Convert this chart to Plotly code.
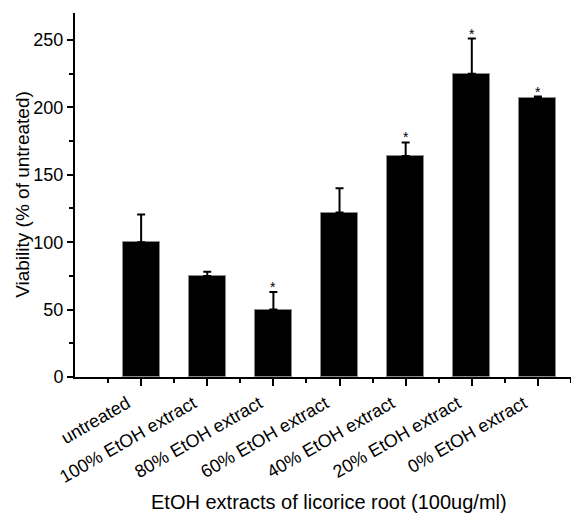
import plotly.graph_objects as go

categories = ["untreated", "100% EtOH extract", "80% EtOH extract", "60% EtOH extract",
              "40% EtOH extract", "20% EtOH extract", "0% EtOH extract"]
viability = [100, 75, 50, 122, 164, 225, 207]
error_up = [20.5, 3, 13, 18, 10, 26, 1]
significant = [False, False, True, False, True, True, True]

FONT = "Arial, Liberation Sans, sans-serif"
idx = list(range(len(categories)))

fig = go.Figure()
fig.add_trace(go.Bar(
    x=idx, y=viability, width=0.56,
    marker=dict(color="black", line=dict(color="#8a8a8a", width=1)),
    error_y=dict(type="data", symmetric=False, array=error_up,
                 arrayminus=[0] * len(error_up),
                 color="black", thickness=2, width=4),
    showlegend=False,
))

annotations = []
for i, (v, e, s) in enumerate(zip(viability, error_up, significant)):
    if s:
        annotations.append(dict(x=i, y=v + e, xref="x", yref="y", text="*",
                                showarrow=False, yanchor="middle", yshift=5,
                                font=dict(family=FONT, size=14, color="black")))

annotations.append(dict(x=0.512, y=-0.343, xref="paper", yref="paper",
                        text="EtOH extracts of licorice root (100ug/ml)",
                        showarrow=False, xanchor="center", yanchor="middle",
                        font=dict(family=FONT, size=20, color="black")))
annotations.append(dict(x=-0.105, y=0.503, xref="paper", yref="paper",
                        text="Viability (% of untreated)", textangle=-90,
                        showarrow=False, xanchor="center", yanchor="middle",
                        font=dict(family=FONT, size=19, color="black")))

fig.update_layout(
    width=571, height=518,
    margin=dict(l=75, r=0, t=13, b=141),
    paper_bgcolor="white", plot_bgcolor="white",
    font=dict(family=FONT, size=18, color="black"),
    annotations=annotations,
    bargap=0,
)
fig.update_xaxes(
    range=[-1, 6.5], tickmode="array", tickvals=idx, ticktext=categories,
    tickangle=-30, ticks="outside", ticklen=7, tickwidth=1.5, tickcolor="black",
    ticklabelshift=-14, ticklabelstandoff=0, automargin=False,
    minor=dict(tickmode="linear", tick0=-0.5, dtick=1, ticks="outside",
               ticklen=4, tickwidth=1.5, tickcolor="black"),
    showline=True, linecolor="black", linewidth=2, showgrid=False, zeroline=False,
    tickfont=dict(family=FONT, size=18, color="black"),
)
fig.update_yaxes(
    range=[0, 270], tickmode="linear", tick0=0, dtick=50,
    ticks="outside", ticklen=6, tickwidth=1.5, tickcolor="black",
    automargin=False,
    minor=dict(tickmode="linear", tick0=0, dtick=25, ticks="outside",
               ticklen=4, tickwidth=1.5, tickcolor="black"),
    showline=True, linecolor="black", linewidth=2, showgrid=False, zeroline=False,
    tickfont=dict(family=FONT, size=18, color="black"),
)

fig.write_html("out.html", config={"displayModeBar": False},
               post_script="document.body.style.margin='0';document.body.style.overflow='hidden';")
